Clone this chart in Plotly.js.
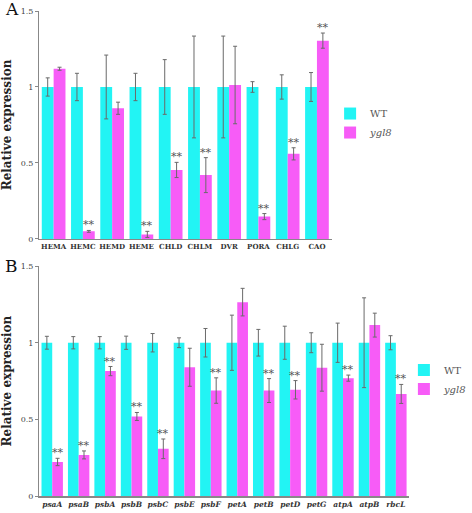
<!DOCTYPE html>
<html>
<head>
<meta charset="utf-8">
<script src="https://cdn.plot.ly/plotly-3.0.1.min.js"></script>
<style>html,body{margin:0;padding:0;background:#fff;}#chart{width:472px;height:513px;}</style>
</head>
<body>
<div id="chart"></div>
<script>
// Panel A data
var catsA = ['HEMA','HEMC','HEMD','HEME','CHLD','CHLM','DVR','PORA','CHLG','CAO'];
var wtA = [1,1,1,1,1,1,1,1,1,1];
var wtErrA = [0.06,0.09,0.21,0.09,0.18,0.335,0.335,0.035,0.08,0.095];
var mutA = [1.12,0.05,0.86,0.03,0.454,0.42,1.013,0.147,0.56,1.305];
var mutErrA = [0.01,0.006,0.04,0.02,0.05,0.115,0.255,0.02,0.04,0.05];
var sigA = [0,1,0,1,1,1,0,1,1,1];

// Panel B data
var catsB = ['psaA','psaB','psbA','psbB','psbC','psbE','psbF','petA','petB','petD','petG','atpA','atpB','rbcL'];
var wtB = [1,1,1,1,1,1,1,1,1,1,1,1,1,1];
var wtErrB = [0.042,0.04,0.04,0.043,0.06,0.032,0.093,0.18,0.087,0.108,0.065,0.128,0.293,0.046];
var mutB = [0.222,0.268,0.815,0.519,0.308,0.84,0.688,1.265,0.688,0.693,0.837,0.769,1.115,0.666];
var mutErrB = [0.024,0.026,0.03,0.026,0.064,0.124,0.083,0.09,0.078,0.06,0.153,0.02,0.078,0.062];
var sigB = [1,1,1,1,1,0,1,0,1,1,0,1,0,1];

var cyan = '#22f4f4';
var mag = '#f75cf7';
var errColor = '#6a6a6a';
var serif = 'DejaVu Serif';

function errObj(arr){return {type:'data', array:arr, visible:true, color:errColor, thickness:1, width:2};}

var traces = [
  {type:'bar', x:catsA, y:wtA, name:'WT', marker:{color:cyan}, error_y:errObj(wtErrA), xaxis:'x', yaxis:'y', legend:'legend'},
  {type:'bar', x:catsA, y:mutA, name:'<i>ygl8</i>', marker:{color:mag}, error_y:errObj(mutErrA), xaxis:'x', yaxis:'y', legend:'legend'},
  {type:'bar', x:catsB, y:wtB, name:'WT', marker:{color:cyan}, error_y:errObj(wtErrB), xaxis:'x2', yaxis:'y2', legend:'legend2'},
  {type:'bar', x:catsB, y:mutB, name:'<i>ygl8</i>', marker:{color:mag}, error_y:errObj(mutErrB), xaxis:'x2', yaxis:'y2', legend:'legend2'}
];

var annotations = [];
function addStars(sig, vals, errs, xr, yr){
  for (var i=0;i<sig.length;i++){
    if(!sig[i]) continue;
    annotations.push({xref:xr, yref:yr, x:i+0.2025, y:vals[i]+errs[i], text:'**', showarrow:false,
      yanchor:'bottom', yshift:-3, font:{family:serif, size:11, color:'#555'}});
  }
}
addStars(sigA, mutA, mutErrA, 'x', 'y');
addStars(sigB, mutB, mutErrB, 'x2', 'y2');
annotations.push({xref:'paper', yref:'paper', x:-0.088, y:1.004, text:'A', showarrow:false, xanchor:'left', yanchor:'middle', font:{family:serif, size:17, color:'#111'}});
annotations.push({xref:'paper', yref:'paper', x:-0.088, y:0.474, text:'B', showarrow:false, xanchor:'left', yanchor:'middle', font:{family:serif, size:17, color:'#111'}});

var yaxisCommon = {range:[0,1.5], tickvals:[0,0.5,1,1.5], ticktext:['0','0.5','1','1.5'], showgrid:false, zeroline:false,
  showline:true, linecolor:'#888', linewidth:1, ticks:'outside', ticklen:3, tickcolor:'#888',
  tickfont:{family:serif, size:8, color:'#444'}, automargin:false,
  title:{text:'Relative expression', font:{family:serif, size:12, color:'#222', weight:'bold'}, standoff:7}};

var layout = {
  width:472, height:513,
  margin:{l:39, r:0, t:11, b:17},
  paper_bgcolor:'#fff', plot_bgcolor:'#fff',
  barmode:'group', bargap:0.19, bargroupgap:0,
  showlegend:true,
  font:{family:serif},
  xaxis:{domain:[0,0.7136], anchor:'y', showline:true, linecolor:'#888', linewidth:1.5, ticks:'', showgrid:false, tickangle:0,
    tickfont:{family:serif, size:7, color:'#333', weight:'bold'}, automargin:false},
  yaxis:Object.assign({}, yaxisCommon, {domain:[0.53,1.0], anchor:'x'}),
  xaxis2:{domain:[0,0.903], anchor:'y2', showline:true, linecolor:'#888', linewidth:1.5, ticks:'', showgrid:false, tickangle:0,
    tickfont:{family:serif, size:7.5, color:'#333', weight:'bold', style:'italic'}, automargin:false},
  yaxis2:Object.assign({}, yaxisCommon, {domain:[0,0.474], anchor:'x2'}),
  legend:{x:0.71, y:0.769, xanchor:'left', yanchor:'middle', bgcolor:'rgba(0,0,0,0)', itemwidth:30,
    font:{family:serif, size:10, color:'#555'}},
  legend2:{x:0.89, y:0.24, xanchor:'left', yanchor:'middle', bgcolor:'rgba(0,0,0,0)', itemwidth:30,
    font:{family:serif, size:10, color:'#555'}},
  annotations:annotations
};

Plotly.newPlot('chart', traces, layout, {displayModeBar:false, staticPlot:true});
</script>
</body>
</html>
